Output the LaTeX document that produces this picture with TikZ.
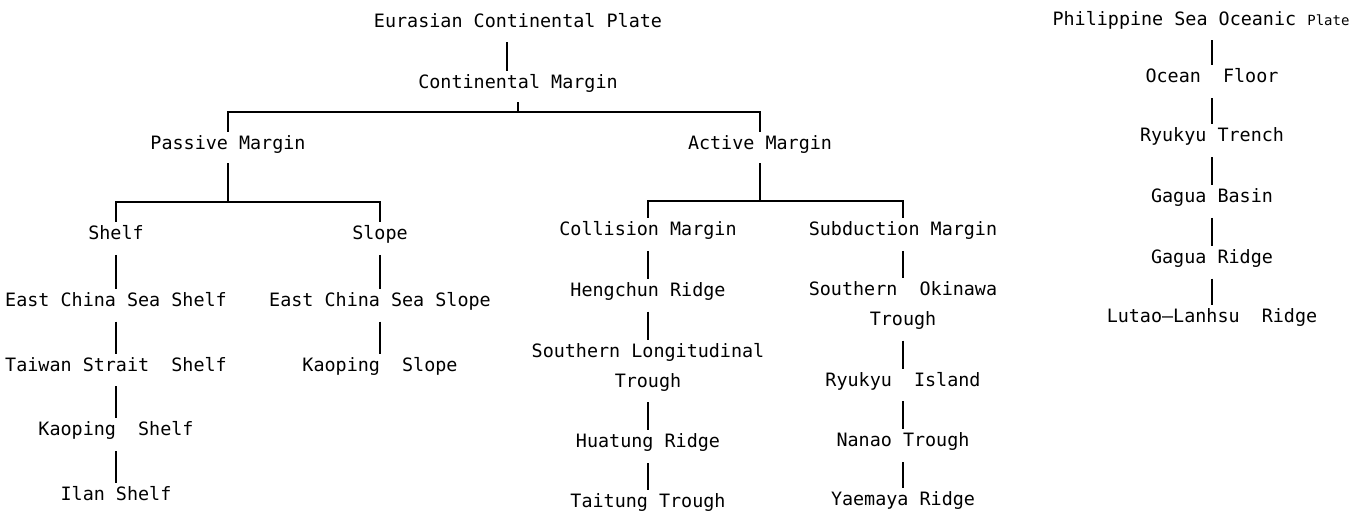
\documentclass[tikz,border=0pt]{standalone}
\usepackage{fontspec}
\setmonofont{DejaVu Sans Mono}
\usepackage{tikz}
\usetikzlibrary{positioning}
\tikzset{
  unitbox/.style={font=\ttfamily\fontsize{9.2}{15}\selectfont, inner sep=0pt, text height=6.5pt, text depth=1.5pt, align=center},
  tallbox/.style={unitbox, text height=21.5pt},
  stem/.style={line width=0.9pt, shorten <=6pt, shorten >=2pt},
  stub/.style={line width=0.9pt, shorten <=5pt},
  branch/.style={line width=0.9pt, shorten >=2pt}
}
\begin{document}
\begin{tikzpicture}[every node/.style={unitbox}]
    \useasboundingbox (0,0) rectangle (675.5pt,-255.5pt);
    \node (ecp) at (259pt,-11pt) {Eurasian Continental Plate};
    \node (cm) [below=22.5pt of ecp] {Continental Margin};
    \node (pm) [below=22pt of cm, xshift=-145pt] {Passive Margin};
    \node (am) [below=22pt of cm, xshift=121pt] {Active Margin};
    \node (shelf) [below=36.5pt of pm, xshift=-56pt] {Shelf};
    \node (slope) [below=36.5pt of pm, xshift=76pt] {Slope};
    \node (colm) [below=34.5pt of am, xshift=-56pt] {Collision Margin};
    \node (subm) [below=34.5pt of am, xshift=71.5pt] {Subduction Margin};

    \node (ecsh) [below=25pt of shelf] {East China Sea Shelf};
    \node (tss) [below=24pt of ecsh] {Taiwan Strait~ Shelf};
    \node (ksh) [below=24pt of tss] {Kaoping~ Shelf};
    \node (ish) [below=24pt of ksh] {Ilan Shelf};

    \node (ecsl) [below=25pt of slope] {East China Sea Slope};
    \node (ksl) [below=24pt of ecsl] {Kaoping~ Slope};

    \node (hr) [below=22pt of colm] {Hengchun Ridge};
    \node (slt) [tallbox, below=22pt of hr] {Southern Longitudinal\\Trough};
    \node (hur) [below=22pt of slt] {Huatung Ridge};
    \node (tt) [below=21.5pt of hur] {Taitung Trough};

    \node (sot) [tallbox, below=21.5pt of subm] {Southern~ Okinawa\\Trough};
    \node (ri) [below=22pt of sot] {Ryukyu~ Island};
    \node (nt) [below=22pt of ri] {Nanao Trough};
    \node (yr) [below=21pt of nt] {Yaemaya Ridge};

    \node (psop) at (600.5pt,-10pt) {Philippine Sea Oceanic {\fontsize{7}{9}\selectfont Plate}};
    \node (of) [below=20.5pt of psop, xshift=5.5pt] {Ocean~ Floor};
    \node (rt) [below=21pt of of] {Ryukyu Trench};
    \node (gb) [below=22pt of rt] {Gagua Basin};
    \node (gr) [below=22pt of gb] {Gagua Ridge};
    \node (llr) [below=21pt of gr] {Lutao—Lanhsu~ Ridge};

    \draw[stem] ([xshift=-5.5pt]ecp.south) -- ([xshift=-5.5pt]cm.north);
    \draw[stub] (cm.south) -- ++(0,-10pt) coordinate (cmjoin);
    \draw[branch] (cmjoin) -| (pm);
    \draw[branch] (cmjoin) -| (am);

    \draw[stub] (pm.south) -- ++(0,-24.5pt) coordinate (pmjoin);
    \draw[branch] (pmjoin) -| (shelf);
    \draw[branch] (pmjoin) -| (slope);
    \draw[stub] (am.south) -- ++(0,-24pt) coordinate (amjoin);
    \draw[branch] (amjoin) -| (colm);
    \draw[branch] (amjoin) -| (subm);

    \draw[stem] (shelf) -- (ecsh);
    \draw[stem] (ecsh) -- (tss);
    \draw[stem] (tss) -- (ksh);
    \draw[stem] (ksh) -- (ish);
    \draw[stem] (slope) -- (ecsl);
    \draw[stem] (ecsl) -- (ksl);
    \draw[stem] (colm) -- (hr);
    \draw[stem] (hr) -- (slt);
    \draw[stem] (slt) -- (hur);
    \draw[stem] (hur) -- (tt);
    \draw[stem] (subm) -- (sot);
    \draw[stem] (sot) -- (ri);
    \draw[stem] (ri) -- (nt);
    \draw[stem] (nt) -- (yr);

    \draw[stem] (psop.south -| of) -- (of);
    \draw[stem] (of) -- (rt);
    \draw[stem] (rt) -- (gb);
    \draw[stem] (gb) -- (gr);
    \draw[stem] (gr) -- (llr);
\end{tikzpicture}
\end{document}
